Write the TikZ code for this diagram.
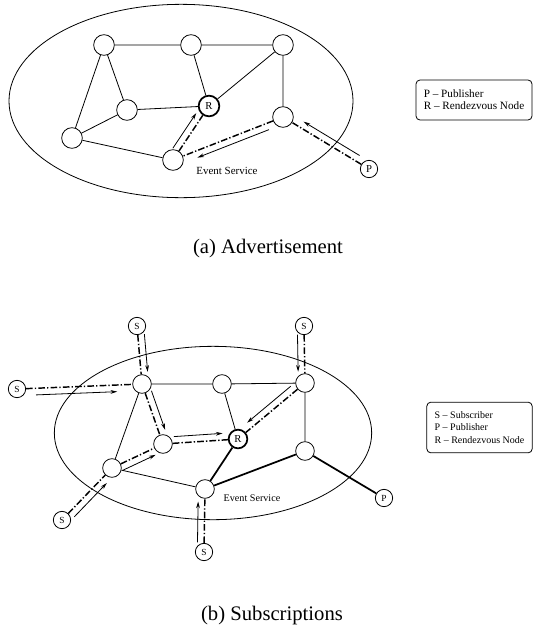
\documentclass[tikz,border=0pt]{standalone}
\usepackage{fontspec}
\setmainfont{Liberation Serif}
\usetikzlibrary{calc,arrows.meta}
\tikzset{
  peer/.style={draw, circle, minimum size=15.5pt, inner sep=0pt, line width=0.6pt, font=\fontsize{8}{9}\selectfont},
  client/.style={peer, minimum size=13pt},
  rendezvous/.style={peer, line width=1.3pt},
  link/.style={line width=0.6pt},
  heavylink/.style={line width=1.3pt},
  dashdot/.style={line width=1.1pt, dash pattern=on 5pt off 1.6pt on 1pt off 1.6pt},
  msgarrow/.style={line width=0.6pt, -{Stealth[length=5pt,width=2.8pt]}},
  legendbox/.style={draw, rounded corners=3pt, align=left, line width=0.6pt, inner sep=0pt},
  caption/.style={font=\fontsize{15.5}{18}\selectfont},
}
% dash-dot route with a parallel message arrow beside it
\newcommand{\route}[3]{%
  \draw[dashdot] (#1) -- (#2);
  \draw[msgarrow] ($(#1)!0.15!(#2)!5pt!#3:(#2)$) -- ($(#1)!0.8!(#2)!5pt!#3:(#2)$);
}

\begin{document}
\begin{tikzpicture}[x=0.75pt, y=-0.75pt]
    \useasboundingbox (0,0) rectangle (533,625);

    % TOP: Advertisement
    \draw[link] (181,101) ellipse [x radius=129pt, y radius=72.5pt];
    \node[peer] (aTL) at (104,45) {};
    \node[peer] (aTM) at (191,45) {};
    \node[peer] (aTR) at (283,45) {};
    \node[peer] (aML) at (127,110) {};
    \node[rendezvous] (aRV) at (209,106) {R};
    \node[peer] (aMR) at (283,117) {};
    \node[peer] (aLL) at (72,138) {};
    \node[peer] (aBM) at (173,160) {};
    \node[client] (aP) at (369,169) {P};
    % Overlay links
    \draw[link] (aTL) -- (aTM) (aTM) -- (aTR) (aTL) -- (aLL) (aTL) -- (aML);
    \draw[link] (aML) -- (aRV) (aML) -- (aLL) (aLL) -- (aBM);
    \draw[link] (aTM) -- (aRV) (aTR) -- (aRV) (aTR) -- (aMR);
    % Advertisement path
    \route{aP}{aMR}{-90}
    \route{aMR}{aBM}{90}
    \route{aBM}{aRV}{90}
    \node[font=\fontsize{8.2}{10}\selectfont] (aES) at (227,171) {Event Service};
    \node[legendbox, minimum width=87pt, minimum height=30pt, font=\fontsize{8.4}{9}\selectfont] (aKey) at (474,100)
        {P -- Publisher\\R -- Rendezvous Node};
    \node[caption] (aCap) at (268,249) {(a) Advertisement};

    % BOTTOM: Subscriptions
    \draw[link] (213,433) ellipse [x radius=119pt, y radius=65pt];
    \begin{scope}[peer/.append style={minimum size=14pt}, client/.style={peer, minimum size=13pt, font=\fontsize{7}{8}\selectfont}]
    \node[peer] (bTL) at (142,384) {};
    \node[peer] (bTM) at (222,384) {};
    \node[peer] (bTR) at (305,383) {};
    \node[peer] (bML) at (163,444) {};
    \node[rendezvous] (bRV) at (238,439) {R};
    \node[peer] (bMR) at (305,451) {};
    \node[peer] (bLL) at (112,468) {};
    \node[peer] (bBM) at (205,489) {};
    \node[client] (bP) at (384,498) {P};
    \node[client] (bS1) at (137,326) {S};
    \node[client] (bS2) at (304,326) {S};
    \node[client] (bS3) at (17,389) {S};
    \node[client] (bS4) at (62,520) {S};
    \node[client] (bS5) at (204,552) {S};
    \end{scope}
    % Overlay links
    \draw[link] (bTL) -- (bTM) (bTM) -- (bTR) (bTL) -- (bLL);
    \draw[link] (bLL) -- (bBM) (bTM) -- (bRV) (bTR) -- (bMR);
    % Delivery tree towards the publisher
    \draw[heavylink] (bRV) -- (bBM) (bBM) -- (bMR) (bMR) -- (bP);
    % Subscription paths
    \route{bS1}{bTL}{90}
    \route{bS3}{bTL}{-90}
    \route{bTL}{bML}{90}
    \route{bLL}{bML}{-90}
    \route{bS4}{bLL}{-90}
    \route{bML}{bRV}{90}
    \route{bTR}{bRV}{-90}
    \route{bS2}{bTR}{-90}
    \route{bS5}{bBM}{90}
    \node[font=\fontsize{7.6}{9}\selectfont] (bES) at (252,498) {Event Service};
    \node[legendbox, minimum width=79pt, minimum height=38pt, font=\fontsize{7.5}{9.4}\selectfont] (bKey) at (479.5,427.5)
        {S -- Subscriber\\P -- Publisher\\R -- Rendezvous Node};
    \node[caption] (bCap) at (272,616) {(b) Subscriptions};
\end{tikzpicture}
\end{document}
